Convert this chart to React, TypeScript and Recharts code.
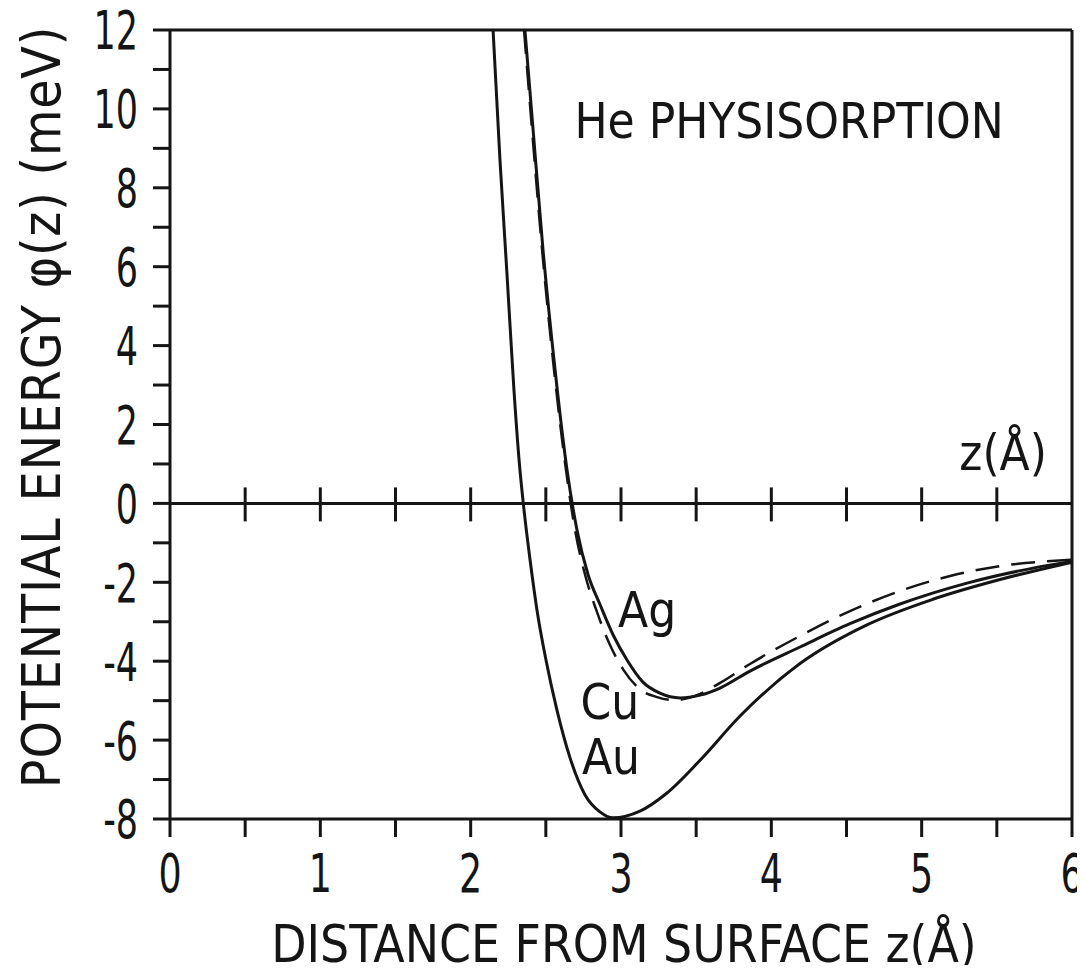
import { Label, Line, LineChart, ReferenceDot, ReferenceLine, XAxis, YAxis } from "recharts";

const FONT = "'Liberation Sans Narrow', 'DejaVu Sans Condensed', 'Arial Narrow', sans-serif";
const INK = "#151515";

// He potential curves: z in Å, phi in meV
const auZ = [2.149, 2.195, 2.242, 2.288, 2.322, 2.355, 2.395, 2.441, 2.501, 2.574, 2.661, 2.761, 2.86, 2.947, 3.126, 3.306, 3.526, 3.792, 4.191, 4.636, 5.075, 5.521, 6.0];
const auPhi = [12, 8.7, 5.79, 2.87, 1.1, -0.17, -1.43, -2.7, -3.97, -5.24, -6.45, -7.39, -7.82, -7.97, -7.8, -7.34, -6.51, -5.39, -4.06, -3.08, -2.43, -1.93, -1.49];

const agZ = [2.361, 2.415, 2.481, 2.561, 2.641, 2.707, 2.781, 2.861, 2.947, 3.04, 3.146, 3.259, 3.393, 3.526, 3.659, 3.858, 4.191, 4.523, 4.856, 5.302, 5.741, 6.0];
const agPhi = [12, 9.48, 6.44, 3.4, 0.85, -0.67, -1.81, -2.57, -3.33, -3.97, -4.53, -4.81, -4.93, -4.86, -4.68, -4.25, -3.64, -3.05, -2.55, -2.02, -1.64, -1.47];

const cuZ = [2.355, 2.408, 2.475, 2.554, 2.634, 2.694, 2.761, 2.84, 2.927, 3.013, 3.126, 3.24, 3.359, 3.492, 3.659, 3.858, 4.191, 4.523, 4.856, 5.189, 5.521, 6.0];
const cuPhi = [12, 9.48, 6.44, 3.4, 0.85, -0.67, -1.81, -2.75, -3.59, -4.2, -4.71, -4.91, -4.99, -4.88, -4.55, -4.07, -3.36, -2.73, -2.22, -1.84, -1.59, -1.43];

const xTicks = [0, 0.5, 1, 1.5, 2, 2.5, 3, 3.5, 4, 4.5, 5, 5.5, 6];
const zeroLineTicks = [0.5, 1, 1.5, 2, 2.5, 3, 3.5, 4, 4.5, 5, 5.5];
const yTicks = [-8, -7, -6, -5, -4, -3, -2, -1, 0, 1, 2, 3, 4, 5, 6, 7, 8, 9, 10, 11, 12];

const notes = [
  { text: "He PHYSISORPTION", z: 2.69, phi: 9.26 },
  { text: "z(Å)", z: 5.25, phi: 0.85 },
  { text: "Ag", z: 2.98, phi: -3.13 },
  { text: "Cu", z: 2.73, phi: -5.46 },
  { text: "Au", z: 2.74, phi: -6.85 },
];

const toPoints = (zs: number[], phis: number[]) => zs.map((z, i) => ({ z, phi: phis[i] }));
const au = toPoints(auZ, auPhi);
const ag = toPoints(agZ, agPhi);
const cu = toPoints(cuZ, cuPhi);

function CrossTick(props: any) {
  const { cx, cy } = props;
  return <line x1={cx} x2={cx} y1={cy - 16} y2={cy + 18} stroke={INK} strokeWidth={3} />;
}

function noteShape(text: string) {
  return (props: any) => (
    <text x={props.cx} y={props.cy} fontFamily={FONT} fontSize={49} fill={INK}>
      {text}
    </text>
  );
}

// narrow digits like the original lettering
function XTick(props: any) {
  const { x, y, payload } = props;
  if (!Number.isInteger(payload.value)) return null;
  return (
    <text transform={`translate(${x},${y}) scale(0.75,1)`} textAnchor="middle" dy="0.72em" fontFamily={FONT} fontSize={54} fill={INK}>
      {payload.value}
    </text>
  );
}

function YTick(props: any) {
  const { x, y, payload } = props;
  if (payload.value % 2 !== 0) return null;
  return (
    <text transform={`translate(${x},${y}) scale(0.72,1)`} textAnchor="end" dy="0.36em" fontFamily={FONT} fontSize={54} fill={INK}>
      {payload.value}
    </text>
  );
}

function YTitle() {
  return (
    <text
      x={60}
      y={407}
      transform="rotate(-90 60 407)"
      textAnchor="middle"
      fontFamily={FONT}
      fontSize={53}
      fill={INK}
      letterSpacing={0.8}
    >
      POTENTIAL ENERGY φ(z) (meV)
    </text>
  );
}

function XTitle() {
  return (
    <text x={624} y={962} textAnchor="middle" fontFamily={FONT} fontSize={51} fill={INK}>
      DISTANCE FROM SURFACE z(Å)
    </text>
  );
}

export default function App() {
  const lineStyle = { stroke: INK, strokeWidth: 3 };
  return (
    <div style={{ margin: -8, width: 1085, height: 973, background: "#fff" }}>
      <LineChart width={1085} height={973} margin={{ top: 30, right: 13, left: 0, bottom: 24 }}>
        <XAxis
          type="number"
          dataKey="z"
          domain={[0, 6]}
          ticks={xTicks}
          interval={0}
          height={130}
          tickSize={18}
          tickMargin={16}
          axisLine={lineStyle}
          tickLine={lineStyle}
          tick={<XTick />}
        >
          <Label content={<XTitle />} />
        </XAxis>
        <YAxis
          type="number"
          dataKey="phi"
          domain={[-8, 12]}
          ticks={yTicks}
          interval={0}
          width={170}
          tickSize={17}
          tickMargin={15}
          axisLine={lineStyle}
          tickLine={lineStyle}
          tick={<YTick />}
        >
          <Label content={<YTitle />} />
        </YAxis>
        <ReferenceLine y={12} stroke={INK} strokeWidth={3} />
        <ReferenceLine x={6} stroke={INK} strokeWidth={3} />
        <ReferenceLine y={0} stroke={INK} strokeWidth={3} />
        {zeroLineTicks.map((t) => (
          <ReferenceDot key={t} x={t} y={0} r={0} shape={CrossTick} />
        ))}
        <Line data={au} dataKey="phi" type="monotone" dot={false} stroke={INK} strokeWidth={3} isAnimationActive={false} />
        <Line data={ag} dataKey="phi" type="monotone" dot={false} stroke={INK} strokeWidth={3} isAnimationActive={false} />
        <Line
          data={cu}
          dataKey="phi"
          type="monotone"
          dot={false}
          stroke={INK}
          strokeWidth={2.5}
          strokeDasharray="24 12"
          isAnimationActive={false}
        />
        {notes.map((n) => (
          <ReferenceDot key={n.text} x={n.z} y={n.phi} r={0} shape={noteShape(n.text)} />
        ))}
      </LineChart>
    </div>
  );
}
